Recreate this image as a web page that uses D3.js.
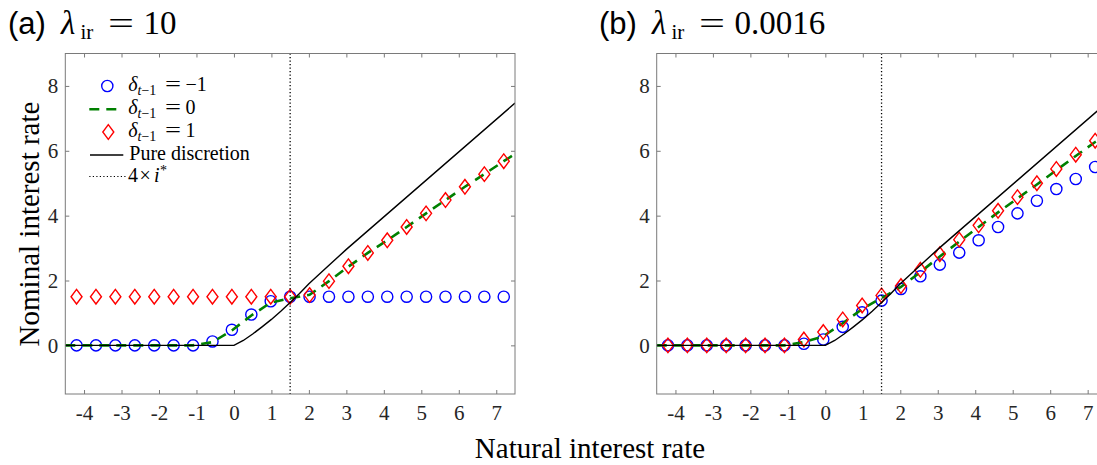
<!DOCTYPE html>
<html><head><meta charset="utf-8">
<script src="https://cdn.jsdelivr.net/npm/d3@7"></script>
<style>
body{margin:0;background:#fff}
svg{display:block}
</style>
</head><body>
<svg id="c" width="1097" height="465"></svg>
<script>
// ---------- data ----------
const xGrid = [-4.2, -3.682, -3.164, -2.645, -2.127, -1.609, -1.091, -0.573, -0.055, 0.464, 0.982,
  1.5, 2.018, 2.536, 3.055, 3.573, 4.091, 4.609, 5.127, 5.645, 6.164, 6.682, 7.2];
const greenX = [-4.5, -4.2, -3.682, -3.164, -2.645, -2.127, -1.609, -1.091, -0.573, -0.055, 0.464, 0.982,
  1.5, 2.018, 2.536, 3.055, 3.573, 4.091, 4.609, 5.127, 5.645, 6.164, 6.682, 7.2, 7.5];

// panel (a): lambda_ir = 10
const circlesA = [0, 0, 0, 0, 0, 0, 0, 0.12, 0.48, 0.95, 1.36, 1.5,
  1.5, 1.5, 1.5, 1.5, 1.5, 1.5, 1.5, 1.5, 1.5, 1.5, 1.5];
const diamondsA = [1.5, 1.5, 1.5, 1.5, 1.5, 1.5, 1.5, 1.5, 1.5, 1.5, 1.5, 1.5,
  1.55, 1.98, 2.44, 2.85, 3.24, 3.65, 4.07, 4.48, 4.89, 5.28, 5.68];
const greenA = [0, 0, 0, 0, 0, 0, 0, 0, 0.1, 0.46, 0.92, 1.32, 1.45,
  1.56, 1.98, 2.43, 2.85, 3.24, 3.65, 4.07, 4.48, 4.89, 5.28, 5.68, 5.9];

// panel (b): lambda_ir = 0.0016
const circlesB = [0, 0, 0, 0, 0, 0, 0, 0.05, 0.18, 0.57, 1.02, 1.38,
  1.74, 2.13, 2.49, 2.86, 3.24, 3.65, 4.07, 4.46, 4.82, 5.13, 5.5];
const diamondsB = [0, 0, 0, 0, 0, 0, 0, 0.18, 0.41, 0.8, 1.23, 1.54,
  1.83, 2.33, 2.81, 3.26, 3.7, 4.15, 4.57, 5.0, 5.44, 5.88, 6.31];
const greenB = [0, 0, 0, 0, 0, 0, 0, 0, 0.1, 0.28, 0.68, 1.12, 1.46,
  1.8, 2.26, 2.74, 3.2, 3.65, 4.1, 4.53, 4.96, 5.4, 5.84, 6.27, 6.5];

// pure discretion (same in both panels)
const discX = [-4.5, 0, 0.25, 0.5, 0.75, 1, 1.25, 1.5, 1.75, 2, 2.5, 3, 7.5];
const discY = [0, 0, 0.15, 0.35, 0.57, 0.8, 1.05, 1.32, 1.6, 1.9, 2.43, 2.96, 7.47];

const iStar4 = 1.5; // 4 x i*

const xTicks = [-4, -3, -2, -1, 0, 1, 2, 3, 4, 5, 6, 7];
const xTickLabels = ["-4", "-3", "-2", "-1", "0", "1", "2", "3", "4", "5", "6", "7"];
const yTicks = [0, 2, 4, 6, 8];
const yTickLabels = ["0", "2", "4", "6", "8"];

// ---------- layout ----------
const SERIF = "'Liberation Serif','Times New Roman',serif";
const SANS = "'Liberation Sans',Arial,sans-serif";
const AX = "#7a7a7a";
const TXT = "#262626";
const svg = d3.select('#c');
const yTop = 53.5, yBot = 394;
const y = d3.scaleLinear().domain([-1.5, 9]).range([yBot, yTop]);

const panels = [
  {x0: 65.3, x1: 515, circles: circlesA, diamonds: diamondsA, green: greenA, id: 'a'},
  {x0: 656.7, x1: 1106.4, circles: circlesB, diamonds: diamondsB, green: greenB, id: 'b'}
];

const diamondPath = "M0,-7.3L5.5,0L0,7.3L-5.5,0Z";

panels.forEach(p => {
  const x = d3.scaleLinear().domain([-4.5, 7.5]).range([p.x0, p.x1]);
  const g = svg.append('g');
  g.append('clipPath').attr('id', 'clip' + p.id).append('rect')
    .attr('x', p.x0).attr('y', yTop).attr('width', p.x1 - p.x0).attr('height', yBot - yTop);

  // axes
  const styleAxis = sel => {
    sel.attr('font-family', SERIF).attr('font-size', 21);
    sel.select('.domain').remove();
    sel.selectAll('.tick line').attr('stroke', AX).attr('stroke-width', 1);
    sel.selectAll('.tick text').attr('fill', TXT).attr('font-family', SERIF)
      .style('font-family', SERIF).style('font-size', '21px');
  };
  g.append('g').attr('transform', `translate(0,${yBot})`)
    .call(d3.axisBottom(x).tickValues(xTicks).tickSizeInner(-4).tickSizeOuter(0).tickPadding(11)
      .tickFormat((d, i) => xTickLabels[i]))
    .call(styleAxis);
  g.append('g').attr('transform', `translate(0,${yTop})`)
    .call(d3.axisTop(x).tickValues(xTicks).tickSizeInner(-4).tickSizeOuter(0).tickFormat(''))
    .call(styleAxis);
  g.append('g').attr('transform', `translate(${p.x0},0)`)
    .call(d3.axisLeft(y).tickValues(yTicks).tickSizeInner(-4).tickSizeOuter(0).tickPadding(7)
      .tickFormat((d, i) => yTickLabels[i]))
    .call(styleAxis);
  g.append('g').attr('transform', `translate(${p.x1},0)`)
    .call(d3.axisRight(y).tickValues(yTicks).tickSizeInner(-4).tickSizeOuter(0).tickFormat(''))
    .call(styleAxis);

  const plot = g.append('g').attr('clip-path', `url(#clip${p.id})`);

  // circles (delta = -1)
  plot.append('g').selectAll('circle').data(xGrid).join('circle')
    .attr('cx', d => x(d)).attr('cy', (d, i) => y(p.circles[i])).attr('r', 5.6)
    .attr('fill', 'none').attr('stroke', '#0000ff').attr('stroke-width', 1.4);

  // green dashed (delta = 0)
  plot.append('path').datum(greenX)
    .attr('d', d3.line().x(d => x(d)).y((d, i) => y(p.green[i])))
    .attr('fill', 'none').attr('stroke', '#008000').attr('stroke-width', 2.6)
    .attr('stroke-dasharray', '10,7');

  // diamonds (delta = 1)
  plot.append('g').selectAll('path').data(xGrid).join('path')
    .attr('d', diamondPath)
    .attr('transform', (d, i) => `translate(${x(d)},${y(p.diamonds[i])})`)
    .attr('fill', 'none').attr('stroke', '#ff0000').attr('stroke-width', 1.4);

  // pure discretion
  plot.append('path').datum(discX)
    .attr('d', d3.line().x(d => x(d)).y((d, i) => y(discY[i])))
    .attr('fill', 'none').attr('stroke', '#000').attr('stroke-width', 1.4);

  // 4 x i*
  plot.append('line').attr('x1', x(iStar4)).attr('x2', x(iStar4)).attr('y1', yTop).attr('y2', yBot)
    .attr('stroke', '#000').attr('stroke-width', 1.3).attr('stroke-dasharray', '1.2,2.3');

  // frame
  g.append('rect').attr('x', p.x0).attr('y', yTop).attr('width', p.x1 - p.x0).attr('height', yBot - yTop)
    .attr('fill', 'none').attr('stroke', AX).attr('stroke-width', 1);
});

// ---------- titles ----------
function title(offset, label, value) {
  const t = svg.append('g');
  t.append('text').attr('x', 8 + offset).attr('y', 34).text(label)
    .style('font-family', SANS).style('font-size', '31px').attr('fill', '#000');
  t.append('text').attr('x', 61 + offset).attr('y', 33.5).text('λ')
    .style('font-family', SERIF).style('font-style', 'italic').style('font-size', '33px');
  t.append('text').attr('x', 80.5 + offset).attr('y', 39).text('ir')
    .style('font-family', SERIF).style('font-size', '21px');
  t.append('text').attr('x', 108 + offset).attr('y', 33.5).text('=')
    .attr('textLength', 26).attr('lengthAdjust', 'spacingAndGlyphs')
    .style('font-family', SERIF).style('font-size', '31px');
  t.append('text').attr('x', 143.5 + offset).attr('y', 33.5).text(value)
    .style('font-family', SERIF).style('font-size', '33px');
}
title(0, '(a)', '10');
title(591, '(b)', '0.0016');

// ---------- axis labels ----------
svg.append('text').attr('transform', 'translate(38.5,224) rotate(-90)')
  .attr('text-anchor', 'middle').text('Nominal interest rate')
  .style('font-family', SERIF).style('font-size', '29px').attr('fill', '#000');
svg.append('text').attr('x', 590).attr('y', 458)
  .attr('text-anchor', 'middle').text('Natural interest rate')
  .style('font-family', SERIF).style('font-size', '29px').attr('fill', '#000');

// ---------- legend ----------
const legendLabels = ['−1', '0', '1'];
const leg = svg.append('g');
const rowsY = [86, 109.3, 132, 155, 176.5];
// markers / samples
leg.append('circle').attr('cx', 107.3).attr('cy', rowsY[0]).attr('r', 5.6)
  .attr('fill', 'none').attr('stroke', '#0000ff').attr('stroke-width', 1.4);
leg.append('line').attr('x1', 89.3).attr('x2', 117.3).attr('y1', rowsY[1]).attr('y2', rowsY[1])
  .attr('stroke', '#008000').attr('stroke-width', 2.6).attr('stroke-dasharray', '10,7');
leg.append('path').attr('d', diamondPath).attr('transform', `translate(108.3,${rowsY[2]})`)
  .attr('fill', 'none').attr('stroke', '#ff0000').attr('stroke-width', 1.4);
leg.append('line').attr('x1', 90).attr('x2', 123.3).attr('y1', rowsY[3]).attr('y2', rowsY[3])
  .attr('stroke', '#000').attr('stroke-width', 1.4);
leg.append('line').attr('x1', 89.3).attr('x2', 126.7).attr('y1', rowsY[4]).attr('y2', rowsY[4])
  .attr('stroke', '#000').attr('stroke-width', 1.2).attr('stroke-dasharray', '1.2,2.3');

const LF = '20px';
legendLabels.forEach((lab, i) => {
  const by = rowsY[i] + 5;
  leg.append('text').attr('x', 128.3).attr('y', by).text('δ')
    .style('font-family', SERIF).style('font-style', 'italic').style('font-size', LF);
  const sub = leg.append('text').attr('x', 137.5).attr('y', by + 4)
    .style('font-family', SERIF).style('font-size', '14px');
  sub.append('tspan').style('font-style', 'italic').text('t');
  sub.append('tspan').text('−1');
  leg.append('text').attr('x', 165).attr('y', by).text('=')
    .attr('textLength', 16).attr('lengthAdjust', 'spacingAndGlyphs')
    .style('font-family', SERIF).style('font-size', LF);
  leg.append('text').attr('x', 185.5).attr('y', by).text(lab)
    .style('font-family', SERIF).style('font-size', LF);
});
leg.append('text').attr('x', 129.3).attr('y', rowsY[3] + 5).text('Pure discretion')
  .style('font-family', SERIF).style('font-size', LF);
leg.append('text').attr('x', 128).attr('y', rowsY[4] + 5).text('4')
  .style('font-family', SERIF).style('font-size', LF);
leg.append('text').attr('x', 139.5).attr('y', rowsY[4] + 5).text('×')
  .style('font-family', SERIF).style('font-size', LF);
leg.append('text').attr('x', 154).attr('y', rowsY[4] + 5).text('i')
  .style('font-family', SERIF).style('font-style', 'italic').style('font-size', LF);
leg.append('text').attr('x', 160).attr('y', rowsY[4] - 2).text('*')
  .style('font-family', SERIF).style('font-size', '14px');
</script>
</body></html>
